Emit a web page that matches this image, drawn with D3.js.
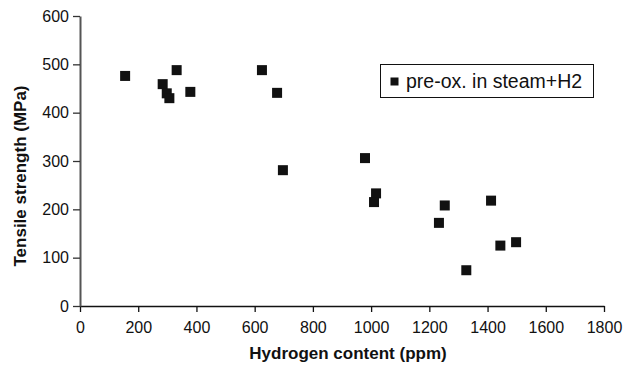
<!DOCTYPE html>
<html>
<head>
<meta charset="utf-8">
<script src="https://cdn.jsdelivr.net/npm/d3@7"></script>
<style>
  html, body { margin: 0; padding: 0; background: #fff; }
  svg text { font-family: "Liberation Sans", Arial, sans-serif; fill: #111; }
</style>
</head>
<body>
<svg id="chart" width="636" height="365"></svg>
<script>
// Tensile strength vs hydrogen content, specimens pre-oxidised in steam+H2
const hydrogenPpm = [155, 284, 298, 307, 332, 379, 625, 677, 697, 979, 1017, 1010, 1253, 1233, 1412, 1444, 1498, 1327];
const tensileMPa  = [476, 459, 440, 430, 488, 443, 488, 441, 281, 306, 233, 215, 208, 172, 218, 125, 132, 74];
const xTicks = [0, 200, 400, 600, 800, 1000, 1200, 1400, 1600, 1800];
const yTicks = [0, 100, 200, 300, 400, 500, 600];
const seriesName = "pre-ox. in steam+H2";

const svg = d3.select("#chart");
const plotLeft = 80, plotRight = 604, plotTop = 16, plotBottom = 306;

const x = d3.scaleLinear().domain([0, 1800]).range([plotLeft, plotRight]);
const y = d3.scaleLinear().domain([0, 600]).range([plotBottom, plotTop]);
const fmt = d3.format("d");

// x axis
const gx = svg.append("g").attr("transform", `translate(0,${plotBottom})`)
  .call(d3.axisBottom(x).tickValues(xTicks).tickFormat(fmt).tickSize(6).tickPadding(10).tickSizeOuter(0));
gx.select(".domain").attr("stroke", "#111").attr("stroke-width", 1.6);
gx.selectAll(".tick line").attr("stroke", "#111").attr("stroke-width", 1.3);
gx.selectAll(".tick text").attr("font-size", 16).attr("fill", "#111");

// y axis
const gy = svg.append("g").attr("transform", `translate(${plotLeft},0)`)
  .call(d3.axisLeft(y).tickValues(yTicks).tickFormat(fmt).tickSize(7).tickPadding(4).tickSizeOuter(0));
gy.select(".domain").attr("stroke", "#555").attr("stroke-width", 2);
gy.selectAll(".tick line").attr("stroke", "#333").attr("stroke-width", 1.3);
gy.selectAll(".tick text").attr("font-size", 16).attr("fill", "#111");

// axis titles
svg.append("text").attr("x", (plotLeft + plotRight) / 2 + 6).attr("y", 359)
  .attr("text-anchor", "middle").attr("font-size", 17).attr("font-weight", "bold")
  .text("Hydrogen content (ppm)");
svg.append("text").attr("transform", "translate(26,176) rotate(-90)")
  .attr("text-anchor", "middle").attr("font-size", 17).attr("font-weight", "bold")
  .text("Tensile strength (MPa)");

// data markers
const m = 10;
svg.append("g").selectAll("rect")
  .data(hydrogenPpm.map((h, i) => [h, tensileMPa[i]]))
  .join("rect")
  .attr("x", d => x(d[0]) - m / 2)
  .attr("y", d => y(d[1]) - m / 2)
  .attr("width", m).attr("height", m)
  .attr("fill", "#111");

// legend
const lg = svg.append("g");
lg.append("rect").attr("x", 380.5).attr("y", 64.5).attr("width", 213).attr("height", 33)
  .attr("fill", "#fff").attr("stroke", "#111").attr("stroke-width", 1);
lg.append("rect").attr("x", 390.5).attr("y", 77.5).attr("width", 8).attr("height", 8).attr("fill", "#111");
lg.append("text").attr("x", 406).attr("y", 88).attr("font-size", 19.5).text(seriesName);
</script>
</body>
</html>
